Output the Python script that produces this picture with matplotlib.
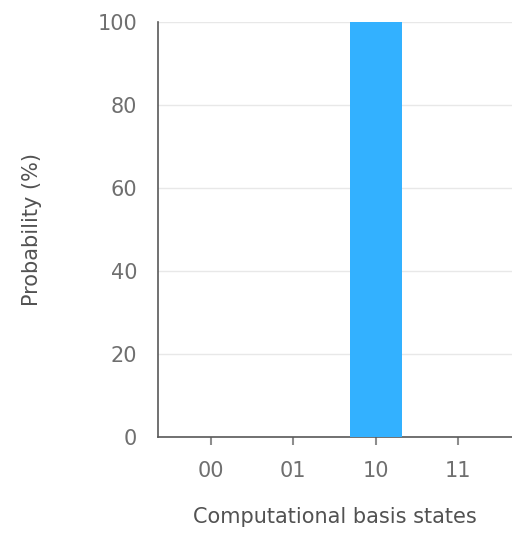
import matplotlib.pyplot as plt

# measurement results
states = ['00', '01', '10', '11']
probability = [0, 0, 100, 0]
y_ticks = [0, 20, 40, 60, 80, 100]

plt.rcParams['font.family'] = ['DejaVu Sans']

fig = plt.figure(figsize=(5.12, 5.33), dpi=100)
ax = fig.add_axes([0.3086, 0.18, 0.6914, 0.7787])

x = list(range(len(states)))
ax.bar(x, probability, width=0.63, color='#33b1ff', zorder=3)

ax.set_xlim(-0.64, 3.65)
ax.set_ylim(0, 100)
ax.set_xticks(x)
ax.set_xticklabels(states)
ax.set_yticks(y_ticks)

ax.grid(axis='y', color='#e8e8e8', linewidth=1, zorder=0)
ax.set_axisbelow(True)

for side in ['top', 'right']:
    ax.spines[side].set_visible(False)
for side in ['left', 'bottom']:
    ax.spines[side].set_color('#595959')
    ax.spines[side].set_linewidth(1.2)

ax.tick_params(axis='x', colors='#8d8d8d', labelsize=15, length=6, width=1.5, pad=11)
ax.tick_params(axis='y', colors='#8d8d8d', labelsize=15, length=0, pad=15)
for lbl in ax.get_xticklabels() + ax.get_yticklabels():
    lbl.set_color('#6f6f6f')

ax.set_xlabel('Computational basis states', fontsize=15, color='#525252', labelpad=19)
ax.set_ylabel('Probability (%)', fontsize=15, color='#525252', labelpad=40)

plt.savefig('out.png', dpi=100)
